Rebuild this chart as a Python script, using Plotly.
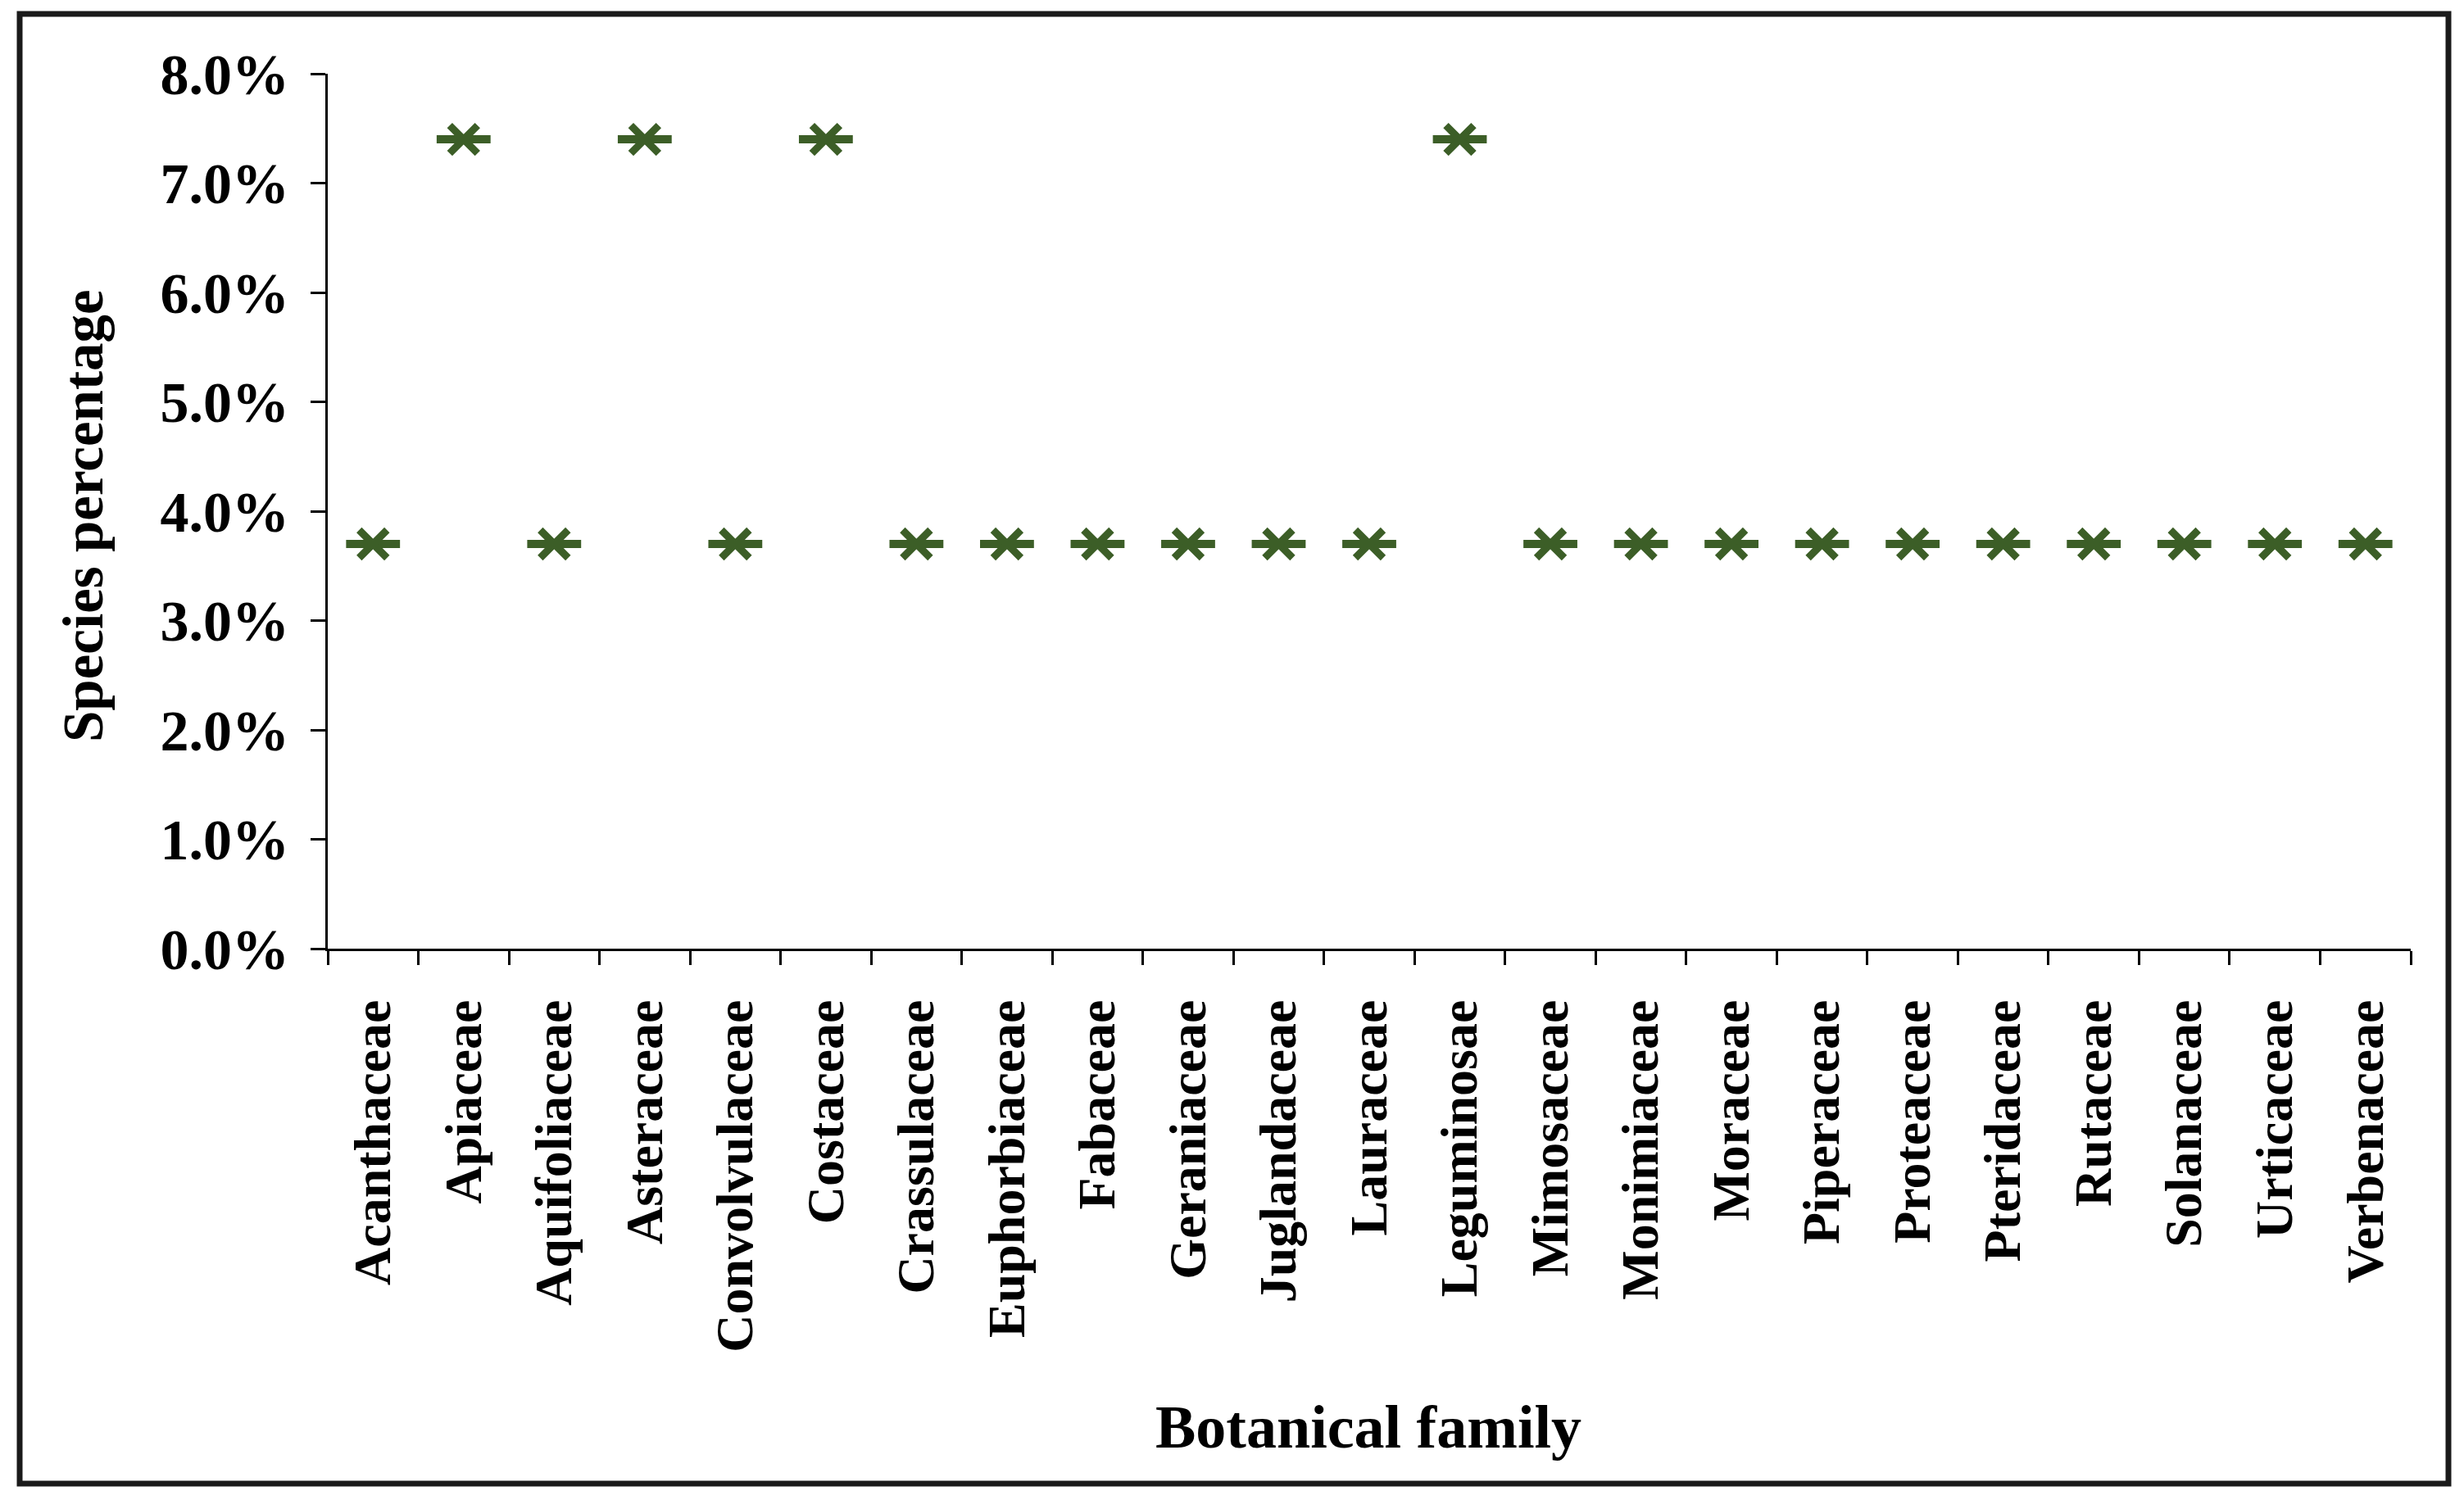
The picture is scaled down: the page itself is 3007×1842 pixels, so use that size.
import plotly.graph_objects as go

families = ["Acanthaceae", "Apiaceae", "Aquifoliaceae", "Asteraceae", "Convolvulaceae",
            "Costaceae", "Crassulaceae", "Euphorbiaceae", "Fabaceae", "Geraniaceae",
            "Juglandaceae", "Lauraceae", "Leguminosae", "Mimosaceae", "Monimiaceae",
            "Moraceae", "Piperaceae", "Proteaceae", "Pteridaceae", "Rutaceae",
            "Solanaceae", "Urticaceae", "Verbenaceae"]
species_pct = [0.037, 0.074, 0.037, 0.074, 0.037, 0.074, 0.037, 0.037, 0.037, 0.037,
               0.037, 0.037, 0.074, 0.037, 0.037, 0.037, 0.037, 0.037, 0.037, 0.037,
               0.037, 0.037, 0.037]
y_ticks = [0.0, 0.01, 0.02, 0.03, 0.04, 0.05, 0.06, 0.07, 0.08]

W, H = 3007, 1842
L, R, T, B = 400, 2942, 90, 1158
GREEN = "#3c5e27"
FONT = "Liberation Serif"

fig = go.Figure()
fig.add_trace(go.Scatter(
    x=families, y=species_pct, mode="markers",
    marker=dict(symbol="line-ew-open", size=47, color=GREEN,
                line=dict(color=GREEN, width=10)),
    showlegend=False, hoverinfo="x+y"))
fig.add_trace(go.Scatter(
    x=families, y=species_pct, mode="markers",
    marker=dict(symbol="x-thin-open", size=34, color=GREEN,
                line=dict(color=GREEN, width=9)),
    showlegend=False, hoverinfo="skip"))

def px2paper_x(px):
    return (px - L) / (R - L)

def px2paper_y(py):
    return (B - py) / (B - T)

fig.update_layout(
    width=W, height=H,
    margin=dict(l=L, r=W - R, t=T, b=H - B, pad=0),
    paper_bgcolor="white", plot_bgcolor="white",
    font=dict(family=FONT, color="black"),
    xaxis=dict(
        type="category", tickson="boundaries", ticks="outside", ticklen=17,
        tickwidth=3, tickcolor="black", showline=True, linecolor="black", linewidth=3,
        showgrid=False, zeroline=False, tickangle=-90,
        tickfont=dict(family=FONT, size=64, color="black", weight="bold"),
        ticklabelstandoff=34, range=[-0.5, len(families) - 0.5]),
    yaxis=dict(
        range=[0, 0.08], tickvals=y_ticks, tickformat=".1%", ticks="outside",
        ticklen=18, tickwidth=3, tickcolor="black", showline=True, linecolor="black",
        linewidth=3, showgrid=False, zeroline=False,
        tickfont=dict(family=FONT, size=70, color="black", weight="bold"),
        ticklabelstandoff=12),
    annotations=[
        dict(text="Species percentage", xref="paper", yref="paper",
             x=px2paper_x(102), y=px2paper_y(630), textangle=-90, showarrow=False,
             xanchor="center", yanchor="middle",
             font=dict(family=FONT, size=69, color="black", weight="bold")),
        dict(text="Botanical family", xref="paper", yref="paper",
             x=px2paper_x(1670), y=px2paper_y(1742), showarrow=False,
             xanchor="center", yanchor="middle",
             font=dict(family=FONT, size=74, color="black", weight="bold")),
    ],
    shapes=[dict(type="rect", xref="paper", yref="paper",
                 x0=px2paper_x(24), x1=px2paper_x(2988),
                 y0=px2paper_y(1811), y1=px2paper_y(17),
                 line=dict(color="#1a1a1a", width=7), fillcolor="rgba(0,0,0,0)",
                 layer="above")],
)

fig.write_html("out.html", config={"displayModeBar": False},
               post_script="document.body.style.margin='0';")
